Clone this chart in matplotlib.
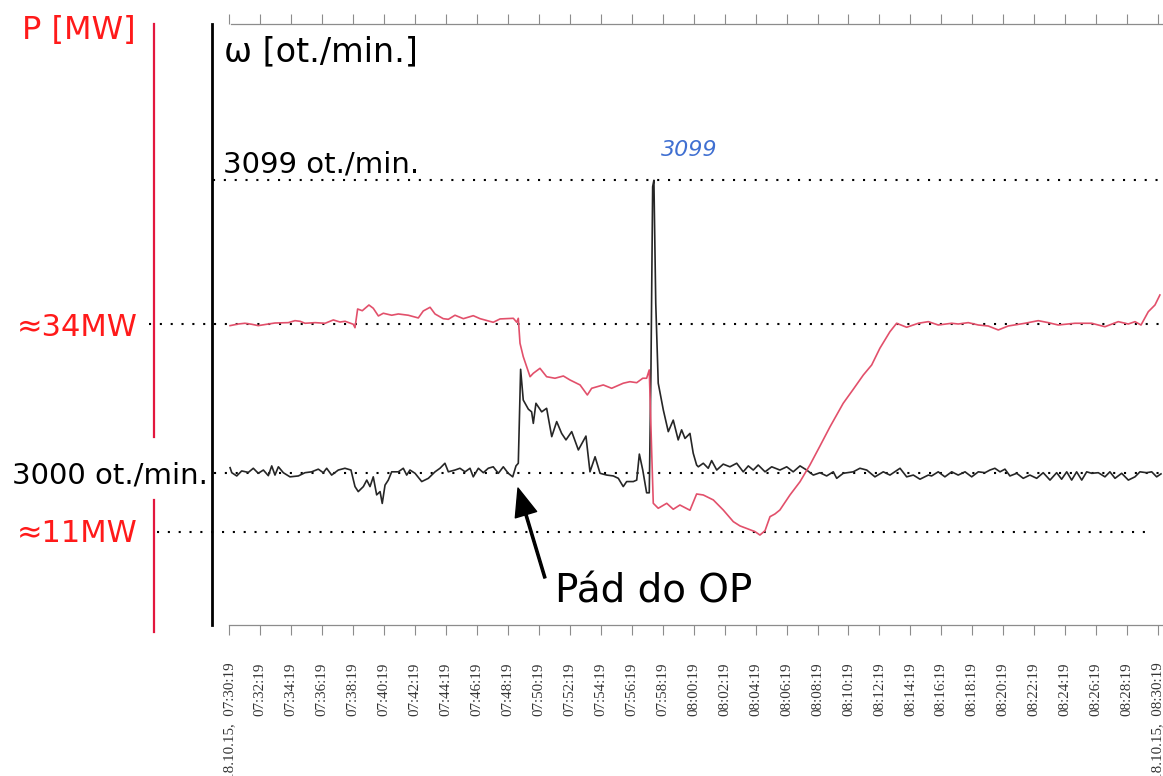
import numpy as np
import matplotlib as mpl
mpl.use('Agg')
import matplotlib.pyplot as plt

############################
### Data ###
############################
# time in minutes after 18.10.15 07:30:19
t_omega = np.array([0.05, 0.16, 0.48, 0.80, 1.23, 1.55, 1.87, 2.20, 2.52, 2.74, 2.95, 3.17, 3.49, 3.92, 4.46,
                    4.89, 5.32, 5.75, 6.07, 6.29, 6.61, 7.04, 7.47, 7.86, 8.12, 8.33, 8.66, 8.88, 9.09, 9.30,
                    9.52, 9.74, 9.88, 10.06, 10.27, 10.49, 10.92, 11.24, 11.46, 11.67, 12.00, 12.43, 12.86,
                    13.29, 13.61, 13.93, 14.15, 14.58, 14.90, 15.23, 15.55, 15.76, 16.09, 16.41, 16.73, 17.05,
                    17.38, 17.70, 18.02, 18.31, 18.52, 18.67, 18.82, 18.99, 19.32, 19.53, 19.64, 19.81, 20.18,
                    20.50, 20.83, 21.15, 21.47, 21.75, 22.12, 22.55, 23.04, 23.30, 23.63, 23.95, 24.38, 24.81,
                    25.13, 25.45, 25.67, 26.10, 26.32, 26.49, 26.71, 26.96, 27.13, 27.24, 27.35, 27.43, 27.55,
                    27.71, 28.04, 28.36, 28.68, 29.00, 29.22, 29.44, 29.76, 29.97, 30.19, 30.30, 30.62, 30.94,
                    31.16, 31.49, 31.91, 32.34, 32.78, 33.20, 33.53, 33.85, 34.17, 34.61, 35.04, 35.57, 36.01,
                    36.43, 36.87, 37.30, 37.73, 38.16, 38.59, 39.02, 39.24, 39.66, 40.31, 40.74, 41.18, 41.71,
                    42.25, 42.68, 43.33, 43.76, 44.19, 44.62, 45.16, 45.37, 45.80, 46.23, 46.67, 47.09, 47.53,
                    47.96, 48.39, 48.82, 49.14, 49.46, 49.79, 50.11, 50.43, 50.87, 51.29, 51.72, 52.16, 52.58,
                    53.02, 53.45, 53.77, 54.10, 54.42, 54.74, 55.07, 55.39, 55.71, 56.14, 56.57, 56.89, 57.22,
                    57.65, 58.08, 58.51, 58.83, 59.26, 59.59, 59.91, 60.19])
omega = np.array([3001.7, 3000.0, 2998.9, 3000.6, 3000.1, 3001.5, 2999.8, 3000.9, 2999.0, 3002.3, 2999.2,
                  3002.0, 3000.0, 2998.6, 2998.9, 3000.0, 3000.3, 3001.2, 3000.0, 3001.5, 2999.2, 3000.9,
                  3001.5, 3000.9, 2995.3, 2993.6, 2995.3, 2997.5, 2995.3, 2998.6, 2992.5, 2993.6, 2989.6,
                  2995.8, 2997.5, 3000.3, 3000.3, 3001.5, 2999.2, 3000.9, 2999.8, 2997.0, 2998.1, 3000.3,
                  3001.5, 3003.2, 3000.3, 3000.9, 3001.5, 3000.3, 3001.5, 2998.6, 3001.5, 3000.0, 3001.5,
                  3002.0, 2999.8, 3002.0, 2999.8, 2998.6, 3002.3, 3003.2, 3035.0, 3024.6, 3021.5, 3020.6,
                  3016.7, 3023.5, 3020.6, 3021.8, 3012.2, 3017.3, 3013.3, 3011.1, 3013.9, 3007.7, 3012.4,
                  3000.3, 3005.4, 2999.8, 2999.2, 2998.9, 2998.1, 2995.3, 2997.0, 2997.0, 2997.5, 3006.3,
                  3000.9, 2993.2, 2993.2, 3034.8, 3096.8, 3099.0, 3057.3, 3030.3, 3021.2, 3013.9, 3017.8,
                  3011.1, 3014.5, 3011.6, 3013.3, 3006.6, 3002.6, 3002.0, 3003.2, 3001.5, 3004.1, 3000.9,
                  3002.9, 3002.0, 3003.2, 3000.3, 3002.3, 3000.9, 3002.6, 3000.3, 3002.0, 3000.9, 3002.0,
                  3000.3, 3002.3, 3000.9, 2999.2, 3000.0, 2998.9, 3000.3, 2998.1, 2999.8, 3000.3, 3001.5,
                  3000.9, 2998.6, 3000.3, 2999.2, 3001.5, 2998.6, 2999.2, 2997.8, 2999.2, 2998.9, 3000.3,
                  2998.6, 3000.3, 2999.2, 3000.3, 2998.6, 3000.3, 3000.0, 3000.9, 3001.5, 3000.3, 3001.2,
                  2998.9, 2999.8, 2998.1, 2999.2, 2998.1, 3000.0, 2997.5, 3000.0, 2997.8, 3000.3, 2997.5,
                  3000.3, 2997.5, 3000.3, 2999.8, 3000.0, 2998.6, 3000.3, 2998.1, 2999.8, 2997.5, 2998.6,
                  3000.3, 3000.0, 3000.3, 2998.6, 2999.6])

t_power = np.array([0.05, 0.58, 1.01, 1.45, 1.87, 2.52, 2.95, 3.81, 4.24, 4.57, 4.89, 5.54, 6.19, 6.72, 7.15,
                    7.48, 8.01, 8.12, 8.29, 8.59, 9.02, 9.30, 9.63, 9.95, 10.49, 10.92, 11.56, 12.21, 12.53,
                    12.97, 13.29, 13.82, 14.15, 14.58, 15.12, 15.76, 16.20, 17.05, 17.49, 18.35, 18.57, 18.67,
                    18.78, 18.99, 19.43, 19.64, 20.07, 20.50, 21.04, 21.58, 22.01, 22.66, 23.13, 23.41, 24.16,
                    24.70, 25.45, 25.88, 26.32, 26.71, 26.96, 27.13, 27.29, 27.39, 27.71, 28.26, 28.68, 29.11,
                    29.76, 30.19, 30.62, 31.27, 31.91, 32.56, 32.99, 33.96, 34.28, 34.61, 34.93, 35.25, 35.57,
                    36.22, 36.87, 37.51, 38.16, 38.81, 39.66, 40.31, 40.96, 41.50, 42.03, 42.68, 43.11, 43.76,
                    44.51, 45.16, 45.80, 46.67, 47.09, 47.74, 48.39, 49.03, 49.68, 50.32, 51.40, 52.26, 52.91,
                    53.55, 54.63, 55.71, 56.57, 57.43, 58.08, 58.51, 58.90, 59.37, 59.80, 60.12])
power = np.array([33.85, 34.03, 34.11, 34.00, 33.85, 34.03, 34.14, 34.18, 34.40, 34.33, 34.11, 34.18, 34.11,
                  34.48, 34.25, 34.33, 34.00, 33.62, 35.69, 35.50, 36.13, 35.77, 34.92, 35.22, 35.00, 35.14,
                  35.00, 34.70, 35.47, 35.88, 35.14, 34.62, 34.55, 35.00, 34.62, 34.95, 34.62, 34.22, 34.59,
                  34.66, 34.22, 34.66, 31.90, 30.42, 28.20, 28.58, 29.13, 28.20, 28.03, 28.28, 27.84, 27.29,
                  26.18, 26.92, 27.29, 26.92, 27.48, 27.65, 27.54, 28.03, 28.03, 28.95, 19.73, 14.20, 13.65,
                  14.20, 13.54, 14.01, 13.43, 15.23, 15.12, 14.57, 13.46, 12.17, 11.70, 11.07, 10.69, 11.17,
                  12.72, 13.02, 13.46, 15.12, 16.59, 18.44, 20.54, 22.67, 25.26, 26.81, 28.39, 29.50, 31.35,
                  33.18, 34.11, 33.67, 34.11, 34.29, 33.92, 34.11, 34.03, 34.18, 33.92, 33.81, 33.37, 33.81,
                  34.11, 34.40, 34.18, 33.92, 34.11, 34.11, 33.73, 34.29, 34.03, 34.29, 33.92, 35.39, 36.13,
                  37.24])

tick_minutes = np.arange(0, 61, 2)
tick_labels = ['18.10.15,  07:30:19', '07:32:19', '07:34:19', '07:36:19', '07:38:19', '07:40:19', '07:42:19',
               '07:44:19', '07:46:19', '07:48:19', '07:50:19', '07:52:19', '07:54:19', '07:56:19', '07:58:19',
               '08:00:19', '08:02:19', '08:04:19', '08:06:19', '08:08:19', '08:10:19', '08:12:19', '08:14:19',
               '08:16:19', '08:18:19', '08:20:19', '08:22:19', '08:24:19', '08:26:19', '08:28:19',
               '18.10.15,  08:30:19']

omega_ref = [3000, 3099]   # ot./min.
power_ref = [34, 11]       # MW
omega_peak_time = 27.43
fall_time, fall_omega = 18.65, 2994.8

#####################
### Figure layout ###
#####################
RED = '#ff1a1a'
DOT = (0, (1, 4.2))

fig = plt.figure(figsize=(11.63, 7.76), dpi=100)
ax = fig.add_axes([0.18229, 0.19459, 0.81771, 0.77448])
ax2 = ax.twinx()

ax.set_xlim(-1.118, 60.32)
ax.set_ylim(2948.45, 3151.88)
ax2.set_ylim(0.74, 67.21)

# traces
ax.plot(t_omega, omega, color='#262626', lw=1.2, zorder=3)
ax2.plot(t_power, power, color='#e2506b', lw=1.2, zorder=3)

# dotted reference lines
ax.hlines(omega_ref[1], -1.05, 60.12, colors='black', linestyles=DOT, lw=1.5, clip_on=False)
ax.hlines(omega_ref[0], -1.0, 60.12, colors='black', linestyles=DOT, lw=1.5, clip_on=False)
ax2.hlines(power_ref[0], -5.19, 60.12, colors='black', linestyles=DOT, lw=1.5, clip_on=False)
ax2.hlines(power_ref[1], -4.67, 59.5, colors='black', linestyles=DOT, lw=1.5, clip_on=False)

# red P axis line (two pieces)
ax2.plot([-4.86, -4.86], [21.5, 67.2], color='#e3173e', lw=1.6, clip_on=False)
ax2.plot([-4.86, -4.86], [0.0, 14.6], color='#e3173e', lw=1.6, clip_on=False)

# spines / ticks
for s in ['top', 'right']:
    ax.spines[s].set_visible(False)
for s in ax2.spines.values():
    s.set_visible(False)
ax2.set_yticks([])
ax.set_yticks([])
ax.spines['left'].set_linewidth(2.0)
ax.spines['left'].set_color('black')
ax.spines['bottom'].set_color('#8c8c8c')
ax.spines['bottom'].set_linewidth(0.9)
ax.spines['bottom'].set_bounds(0, 60.32)

ax.set_xticks(tick_minutes)
ax.set_xticklabels(tick_labels, rotation=90, family='Liberation Serif', fontsize=10.8, color='#333333')
ax.tick_params(axis='x', direction='out', length=7, width=0.8, color='#8c8c8c', pad=20)

sec = ax.secondary_xaxis('top')
sec.set_xticks(tick_minutes)
sec.tick_params(axis='x', direction='out', length=7, width=0.8, color='#8c8c8c', labeltop=False)
sec.spines['top'].set_color('#8c8c8c')
sec.spines['top'].set_linewidth(0.9)
sec.spines['top'].set_bounds(0.1, 60.32)

# texts
fig.text(22 / 1163, 1 - 38.5 / 776, 'P [MW]', color=RED, fontsize=23, va='baseline', ha='left')
ax.text(-0.34, 3139.2, 'ω [ot./min.]', fontsize=24, va='baseline', ha='left')
ax.text(-0.43, 3101.5, '3099 ot./min.', fontsize=21, va='baseline', ha='left')
ax.text(-1.38, 2996.5, '3000 ot./min.', fontsize=21, va='baseline', ha='right', clip_on=False)
ax2.text(-5.90, 32.71, '≈34MW', color=RED, fontsize=22, va='baseline', ha='right')
ax2.text(-5.90, 9.92, '≈11MW', color=RED, fontsize=22, va='baseline', ha='right')
ax.text(omega_peak_time + 2.3, 3109.2, '3099', color='#3f6fd1', fontsize=16, style='italic',
        ha='center', va='center')

ax.annotate('', xy=(fall_time, fall_omega), xytext=(20.39, 2964.4),
            arrowprops=dict(facecolor='black', edgecolor='black', width=1.6, headwidth=16,
                            headlength=20, shrink=0))
ax.text(21.04, 2955.9, 'Pád do OP', fontsize=28, va='baseline', ha='left')

plt.savefig('out.png', dpi=100)
